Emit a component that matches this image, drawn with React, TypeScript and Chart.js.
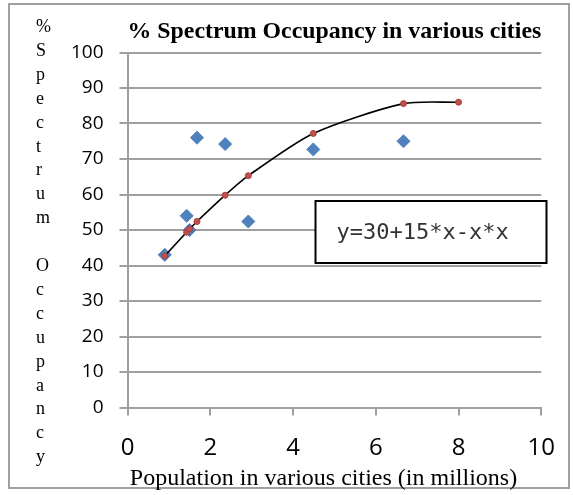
import React, { useEffect, useRef } from 'react';
import { Chart, registerables } from 'chart.js';

Chart.register(...registerables);

// ---- data ----
const cityPopulation = [0.9, 1.43, 1.5, 1.68, 2.36, 2.92, 4.49, 6.67];
const cityOccupancy = [43, 54, 50, 76, 74.2, 52.4, 72.7, 75];
const fitPopulation = [0.9, 1.43, 1.5, 1.68, 2.36, 2.92, 4.49, 6.67, 8];
const fitOccupancy = [42.7, 49.4, 50.3, 52.4, 59.8, 65.3, 77.2, 85.6, 86];
const yTickValues = [0, 10, 20, 30, 40, 50, 60, 70, 80, 90, 100];
const xTickValues = [0, 2, 4, 6, 8, 10];
const chartTitle = '% Spectrum Occupancy in various cities';
const xAxisTitle = 'Population in various cities (in millions)';
const yAxisTitleLetters = ['%', 'S', 'p', 'e', 'c', 't', 'r', 'u', 'm', '', 'O', 'c', 'c', 'u', 'p', 'a', 'n', 'c', 'y'];
const equationLabel = 'y=30+15*x-x*x';

const decorPlugin = {
  id: 'decor',
  beforeDraw(chart: any) {
    const ctx = chart.ctx;
    ctx.save();
    ctx.fillStyle = '#ffffff';
    ctx.fillRect(0, 0, chart.width, chart.height);
    ctx.strokeStyle = '#a0a0a0';
    ctx.lineWidth = 2;
    ctx.strokeRect(9, 4, 560, 484);
    ctx.restore();
  },
  afterDraw(chart: any) {
    const ctx = chart.ctx;
    const area = chart.chartArea;
    ctx.save();
    // vertical y-axis title, one letter per line
    ctx.fillStyle = '#000000';
    ctx.font = '18px "Liberation Serif", "Times New Roman", serif';
    ctx.textAlign = 'left';
    ctx.textBaseline = 'alphabetic';
    yAxisTitleLetters.forEach((ch, i) => {
      ctx.fillText(ch, 36, 32 + i * 23.9);
    });
    // x-axis title
    ctx.font = '24px "Liberation Serif", "Times New Roman", serif';
    ctx.textAlign = 'center';
    ctx.fillText(xAxisTitle, area.left + 196, 485);
    // equation box
    const bx = area.left + 188;
    const by = area.top + 148.5;
    const bw = 231;
    const bh = 62;
    ctx.fillStyle = '#ffffff';
    ctx.fillRect(bx, by, bw, bh);
    ctx.strokeStyle = '#000000';
    ctx.lineWidth = 2;
    ctx.strokeRect(bx, by, bw, bh);
    ctx.fillStyle = '#333333';
    ctx.font = '22px "DejaVu Sans Mono", monospace';
    ctx.textAlign = 'left';
    ctx.textBaseline = 'alphabetic';
    ctx.fillText(equationLabel, bx + 21, by + 37.5);
    ctx.restore();
  },
};

export default function App() {
  const canvasRef = useRef<HTMLCanvasElement | null>(null);

  useEffect(() => {
    document.body.style.margin = '0';
    const canvas = canvasRef.current;
    if (!canvas) return;
    const chart = new Chart(canvas, {
      type: 'scatter',
      data: {
        datasets: [
          {
            label: 'Fit',
            data: fitPopulation.map((x, i) => ({ x, y: fitOccupancy[i] })),
            showLine: true,
            borderColor: '#000000',
            borderWidth: 1.6,
            tension: 0.25,
            pointStyle: 'circle',
            pointRadius: 3,
            pointBackgroundColor: '#c0504d',
            pointBorderColor: '#a8403d',
            pointBorderWidth: 1,
            order: 0,
          } as any,
          {
            label: 'Occupancy',
            data: cityPopulation.map((x, i) => ({ x, y: cityOccupancy[i] })),
            pointStyle: 'rectRot',
            pointRadius: 6.5,
            pointBackgroundColor: '#4f81bd',
            pointBorderColor: '#4f81bd',
            pointBorderWidth: 1,
            showLine: false,
            order: 1,
          } as any,
        ],
      },
      options: {
        responsive: false,
        animation: false,
        devicePixelRatio: 1,
        layout: { padding: { left: 0, right: 30.5, top: 0, bottom: 0 } },
        plugins: {
          legend: { display: false },
          tooltip: { enabled: false },
          title: {
            display: true,
            text: chartTitle,
            fullSize: false,
            color: '#000000',
            font: { family: '"Liberation Serif", "Times New Roman", serif', size: 24, weight: 'bold', lineHeight: 1.2 },
            padding: { top: 17, bottom: 6.7 },
          },
        },
        scales: {
          x: {
            type: 'linear',
            min: 0,
            max: 10,
            afterBuildTicks: (s: any) => {
              s.ticks = xTickValues.map((v) => ({ value: v }));
            },
            afterFit: (s: any) => {
              s.height = 87.5;
            },
            grid: {
              drawOnChartArea: false,
              drawTicks: true,
              tickLength: 8,
              color: '#a0a0a0',
              lineWidth: 2,
            },
            border: { display: true, color: '#a0a0a0', width: 2 },
            ticks: {
              color: '#000000',
              padding: 18,
              maxRotation: 0,
              font: { family: '"Open Sans", sans-serif', size: 24 },
            },
          },
          y: {
            type: 'linear',
            min: 0,
            max: 100,
            afterBuildTicks: (s: any) => {
              s.ticks = yTickValues.map((v) => ({ value: v }));
            },
            afterFit: (s: any) => {
              s.width = 127.5;
            },
            grid: {
              drawOnChartArea: true,
              drawTicks: true,
              tickLength: 8,
              color: '#a0a0a0',
              lineWidth: 2,
            },
            border: { display: true, color: '#a0a0a0', width: 2 },
            ticks: {
              color: '#000000',
              padding: 16,
              font: { family: '"Open Sans", sans-serif', size: 19 },
            },
          },
        },
      },
      plugins: [decorPlugin],
    } as any);
    return () => {
      chart.destroy();
    };
  }, []);

  return <canvas ref={canvasRef} width={573} height={495} style={{ display: 'block' }} />;
}
